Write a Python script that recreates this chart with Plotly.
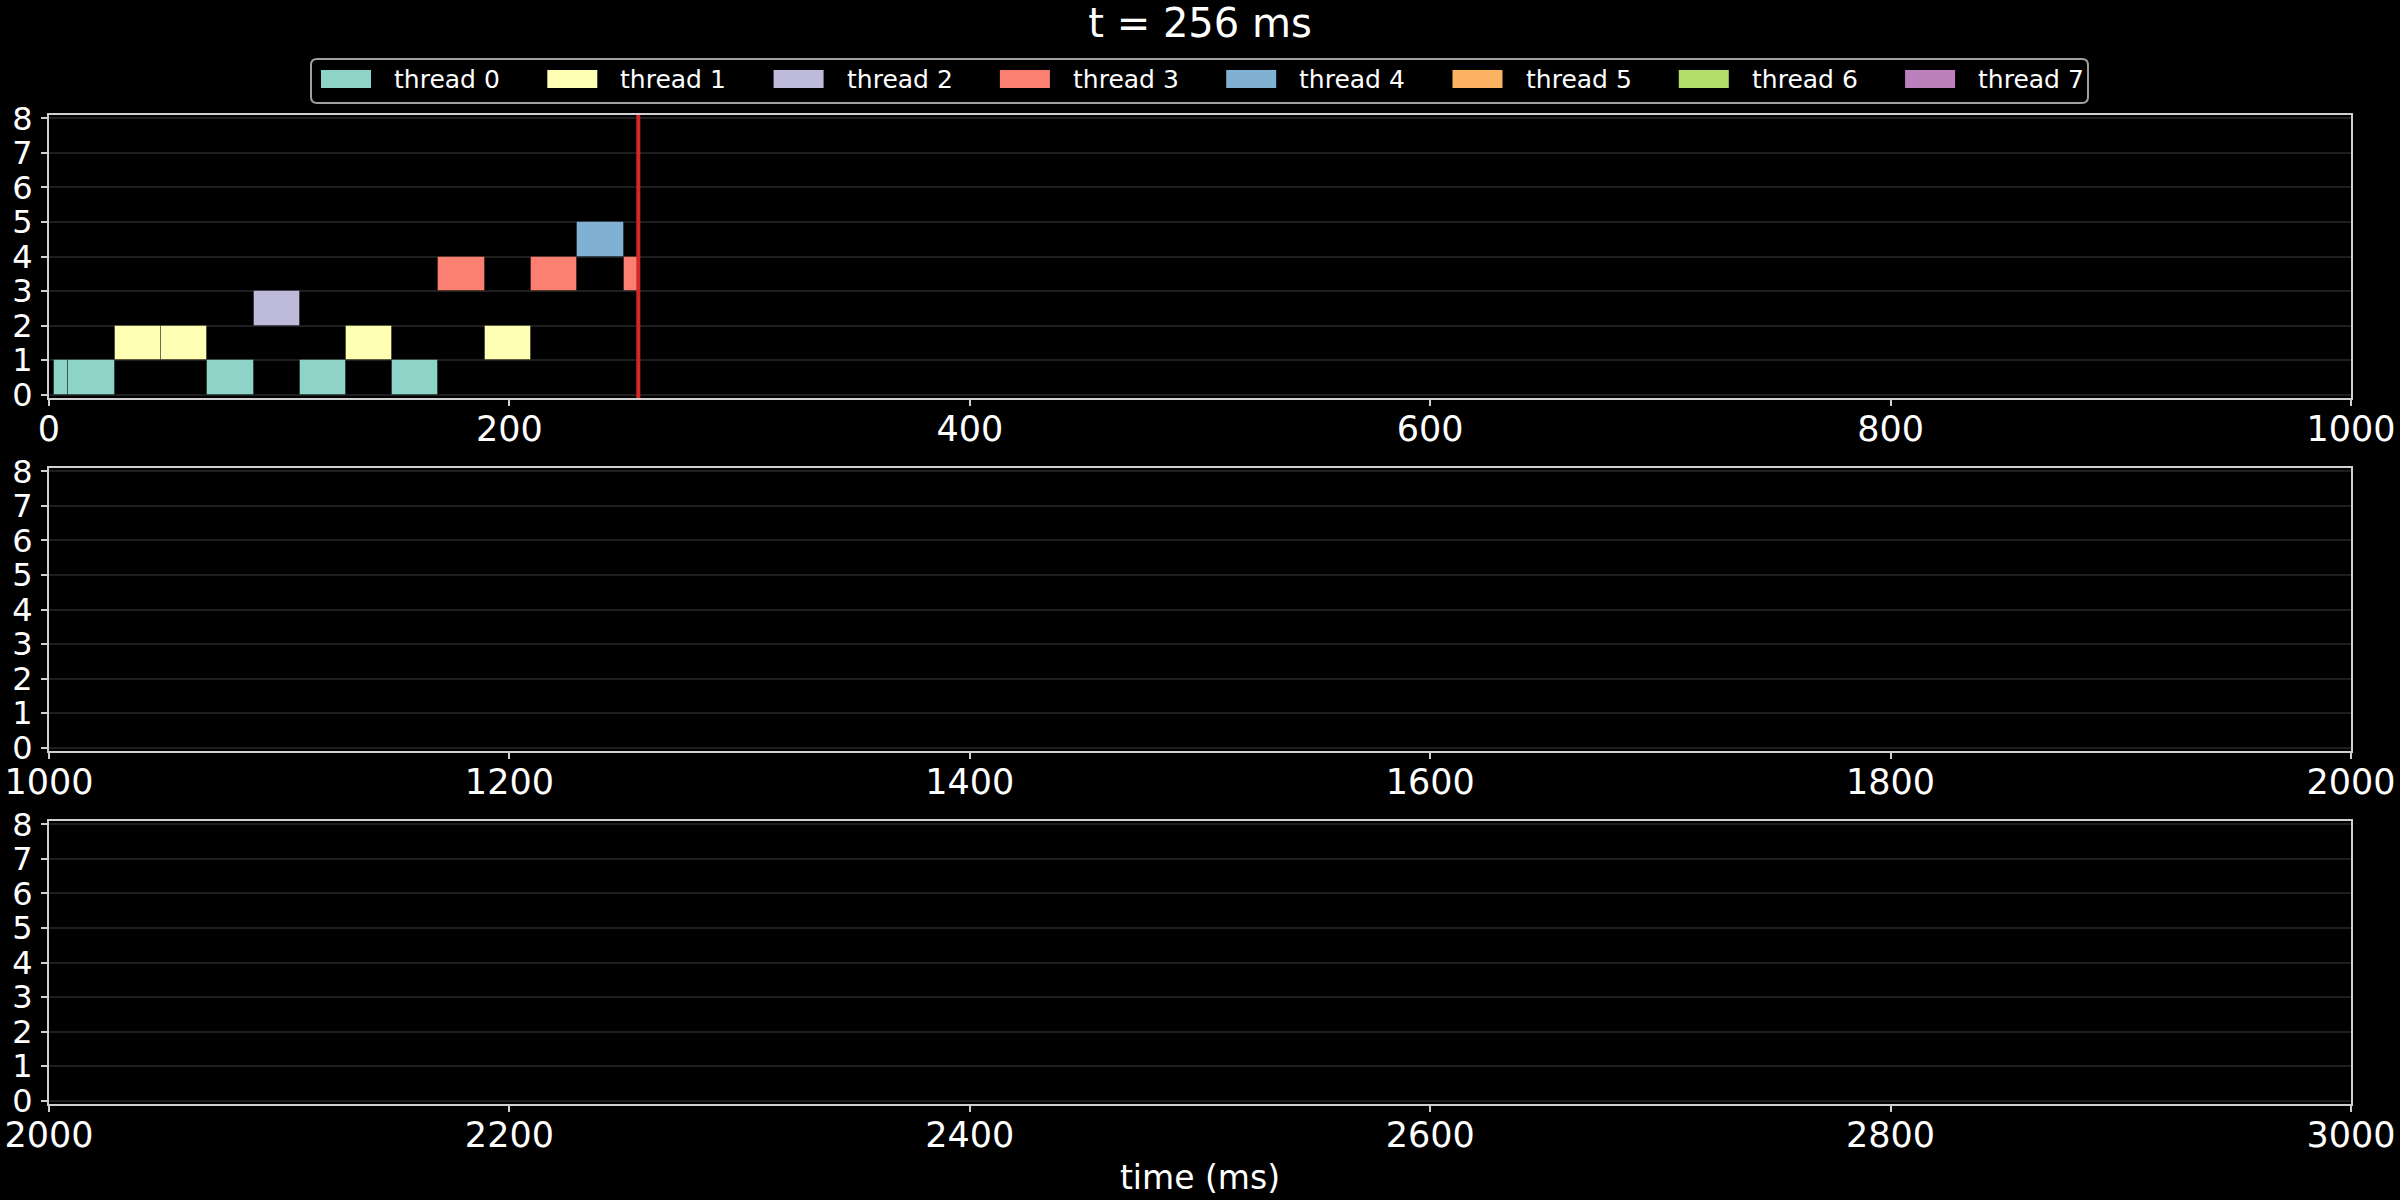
import plotly.graph_objects as go
import re

# ---- data ----
current_time = 256
thread_names = [f"thread {i}" for i in range(8)]
thread_colors = ["#8dd3c7", "#ffffb3", "#bebada", "#fb8072",
                 "#80b1d3", "#fdb462", "#b3de69", "#bc80bd"]
task_thread = [0, 0, 1, 1, 0, 2, 0, 1, 0, 3, 1, 3, 4, 3]
task_start = [2.3, 8.3, 28.7, 48.7, 68.7, 88.9, 108.9, 129.1, 149.1, 169.1, 189.3, 209.3, 229.5, 249.7]
task_end = [8.3, 28.7, 48.7, 68.7, 88.9, 108.9, 129.1, 149.1, 169.1, 189.3, 209.3, 229.5, 249.7, 256.0]
panel_ranges = [[0, 1000], [1000, 2000], [2000, 3000]]
y_ticks = list(range(0, 9))

W, H = 2400, 1200
FONT = "DejaVu Sans"
SPINE = "#d0d0d0"
GRID = "#1e1e1e"

fig = go.Figure()

# pixel layout
ml, mr, mt, mb = 49, 49, 115, 96
plot_h = H - mt - mb
panel_px = [(115, 398), (468, 751), (821, 1104)]
domains = [[(H - mb - b) / plot_h, (H - mb - t) / plot_h] for t, b in panel_px]

for p, rng in enumerate(panel_ranges):
    xa = "x" if p == 0 else f"x{p+1}"
    ya = "y" if p == 0 else f"y{p+1}"
    for th in range(8):
        idx = [k for k, t in enumerate(task_thread) if t == th]
        if not idx:
            continue
        fig.add_trace(go.Bar(
            orientation="h",
            y=[task_thread[k] + 0.5 for k in idx],
            x=[task_end[k] - task_start[k] for k in idx],
            base=[task_start[k] for k in idx],
            width=[1.0] * len(idx),
            marker=dict(color=thread_colors[th],
                        line=dict(color="rgba(0,0,0,0.35)", width=1)),
            name=thread_names[th],
            showlegend=False,
            xaxis=xa, yaxis=ya,
        ))
    axis_common = dict(showline=True, mirror=True, linecolor=SPINE, linewidth=2,
                       ticks="outside", ticklen=6, tickwidth=2, tickcolor=SPINE,
                       zeroline=False, automargin=False)
    xkey = "xaxis" if p == 0 else f"xaxis{p+1}"
    ykey = "yaxis" if p == 0 else f"yaxis{p+1}"
    xdict = dict(axis_common, range=rng, dtick=200, tick0=0, showgrid=False,
                 anchor=ya, domain=[0, 1], ticklabelstandoff=-7,
                 tickfont=dict(family=FONT, size=35, color="white"))
    if p == 2:
        xdict["title"] = dict(text="time (ms)", font=dict(family=FONT, size=33, color="white"),
                              standoff=12)
    ydict = dict(axis_common, range=[-0.1, 8.1], tickmode="array", tickvals=y_ticks,
                 showgrid=True, gridcolor=GRID, gridwidth=2, anchor=xa, domain=domains[p],
                 ticklabelstandoff=2,
                 tickfont=dict(family=FONT, size=32, color="white"))
    fig.update_layout({xkey: xdict, ykey: ydict})
    # current time marker
    if rng[0] <= current_time <= rng[1]:
        fig.add_shape(type="line", xref=xa, yref=f"{ya} domain",
                      x0=current_time, x1=current_time, y0=0, y1=1,
                      line=dict(color="#d62728", width=4))

# custom legend (paper coords from pixels)
def px_x(x):
    return (x - ml) / (W - ml - mr)

def px_y(y):
    return (H - mb - y) / plot_h

bx0, bx1, by0, by1, r = 311, 2088, 59, 103, 6
path = (f"M {bx0+r},{by0} L {bx1-r},{by0} Q {bx1},{by0} {bx1},{by0+r} "
        f"L {bx1},{by1-r} Q {bx1},{by1} {bx1-r},{by1} L {bx0+r},{by1} "
        f"Q {bx0},{by1} {bx0},{by1-r} L {bx0},{by0+r} Q {bx0},{by0} {bx0+r},{by0} Z")

def conv(m):
    x, y = float(m.group(1)), float(m.group(2))
    return f"{px_x(x):.5f},{px_y(y):.5f}"

paper_path = re.sub(r"(-?[\d.]+),(-?[\d.]+)", conv, path)
fig.add_shape(type="path", xref="paper", yref="paper", path=paper_path,
              line=dict(color="#a0a0a0", width=2), fillcolor="black")
for i, (nm, col) in enumerate(zip(thread_names, thread_colors)):
    sx = 321 + 226.3 * i
    fig.add_shape(type="rect", xref="paper", yref="paper",
                  x0=px_x(sx), x1=px_x(sx + 50), y0=px_y(88), y1=px_y(70),
                  fillcolor=col, line=dict(width=0))
    fig.add_annotation(xref="paper", yref="paper", x=px_x(sx + 71), y=px_y(80),
                       text=nm, showarrow=False, xanchor="left", yanchor="middle",
                       font=dict(family=FONT, size=25, color="white"))

fig.update_layout(
    width=W, height=H,
    paper_bgcolor="black", plot_bgcolor="black",
    margin=dict(l=ml, r=mr, t=mt, b=mb),
    bargap=0, barmode="overlay",
    showlegend=False,
    title=dict(text=f"t = {current_time} ms", x=0.5, xanchor="center",
               y=1 - 23 / H, yanchor="middle",
               font=dict(family=FONT, size=40, color="white")),
    font=dict(family=FONT, color="white"),
)

fig.write_html("out.html", config={"displayModeBar": False},
               post_script="document.body.style.margin='0';document.body.style.background='black';")
